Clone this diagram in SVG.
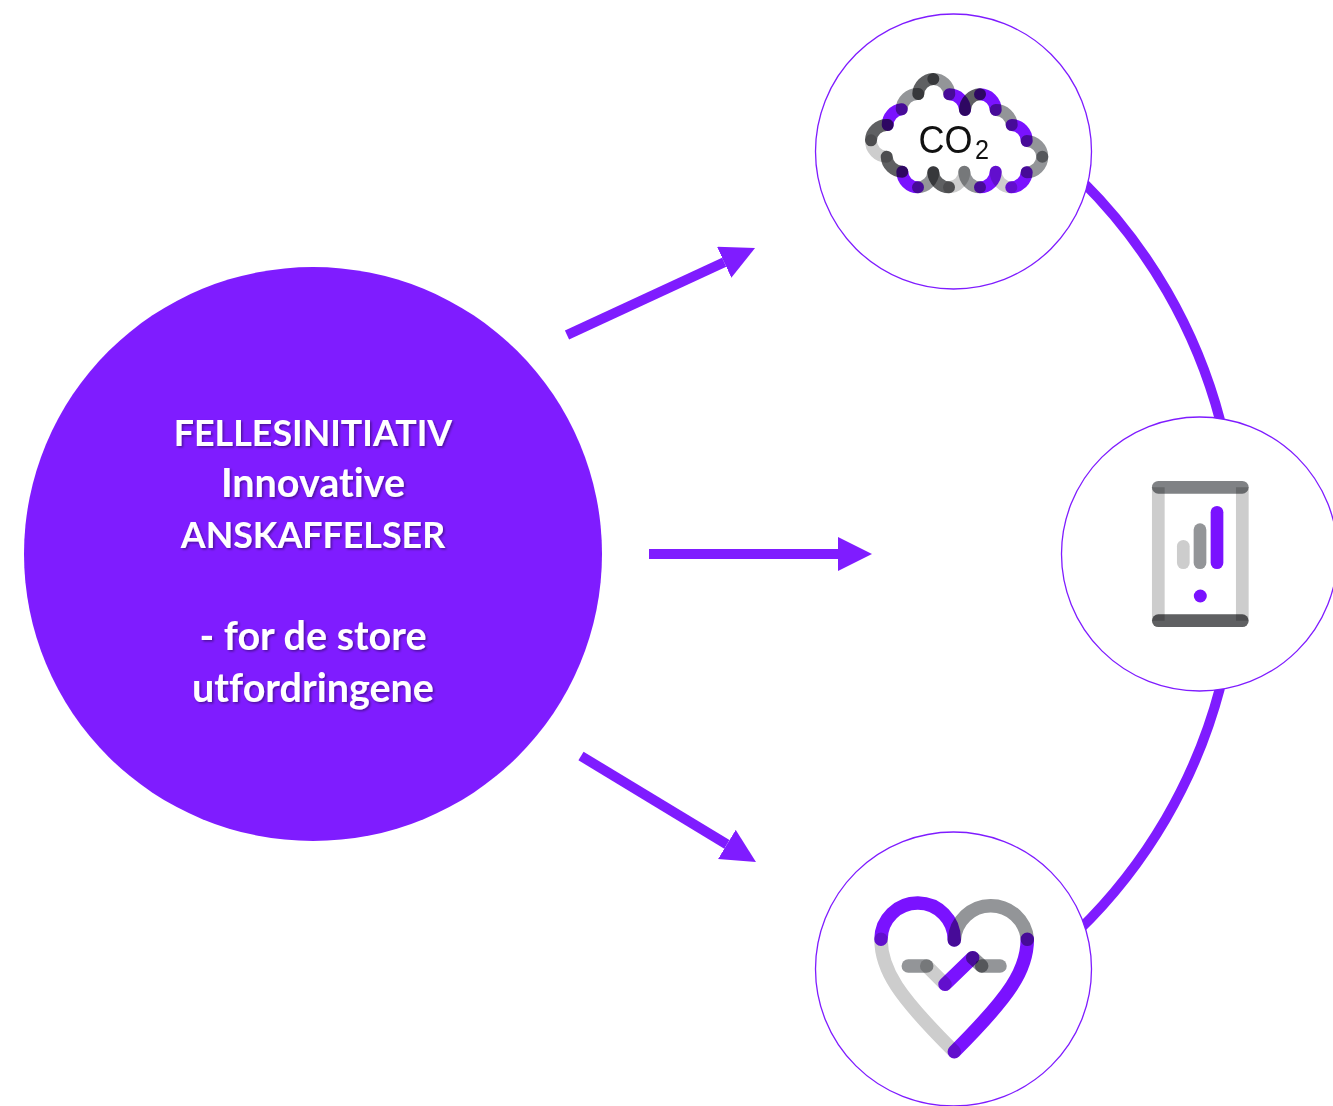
<svg xmlns="http://www.w3.org/2000/svg" width="1333" height="1106" viewBox="0 0 1333 1106">
<defs>
<style>
.ring{fill:#fff;stroke:#7f1cff;stroke-width:1.3}
.s{fill:none;stroke-linecap:round;mix-blend-mode:multiply}
.ic{isolation:isolate}
.c{stroke-width:12}
.h{stroke-width:13.5}
.f{stroke-width:12.7}
.p{stroke:#7a12ff}.l{stroke:#cdcdcd}.m{stroke:#939598}.d{stroke:#5f6062}
.conn{fill:none;stroke:#7f1cff}
.t{font-family:"Lato","Carlito","Open Sans",sans-serif;font-weight:700;font-size:35.8px;fill:#fff;text-anchor:middle;filter:url(#sh);font-variant-ligatures:none}
.lc{font-size:39.5px}
.co{font-family:"Liberation Sans",Arial,sans-serif;fill:#111}
</style>
<filter id="sh" x="-10%" y="-20%" width="120%" height="150%"><feDropShadow dx="1.5" dy="1.5" stdDeviation="1" flood-color="#000" flood-opacity="0.4"/></filter>
<marker id="ah" markerUnits="userSpaceOnUse" markerWidth="36" markerHeight="36" refX="0" refY="17" orient="auto"><path d="M0 0L34 17L0 34Z" fill="#7f1cff"/></marker>
</defs>
<rect width="1333" height="1106" fill="#fff"/>
<g id="connectors">
<path class="conn" stroke-width="10" d="M1082 181A525.6 525.6 0 0 1 1220 420"/>
<path class="conn" stroke-width="10" d="M1220 688A525.6 525.6 0 0 1 1078 931"/>
<path class="conn" stroke-width="10" marker-end="url(#ah)" d="M567 335L724.2 262.3"/>
<path class="conn" stroke-width="10" marker-end="url(#ah)" d="M649 554L838 554"/>
<path class="conn" stroke-width="10" marker-end="url(#ah)" d="M581 756L726.9 844.4"/>
</g>
<g id="node-main">
<ellipse cx="313" cy="554" rx="289" ry="287" fill="#7f1cff"/>
<text class="t" x="313" y="446">FELLESINITIATIV</text>
<text class="t lc" x="313" y="497">Innovative</text>
<text class="t" x="313" y="548">ANSKAFFELSER</text>
<text class="t lc" x="313" y="650">- for de store</text>
<text class="t lc" x="313" y="702">utfordringene</text>
</g>
<g id="node-co2" class="ic">
<ellipse class="ring" cx="953.5" cy="151.5" rx="138" ry="137.5"/>
<g class="c">
<path class="s d" d="M871 140.3A15.8 15.8 0 0 1 887.7 125"/>
<path class="s p" d="M887.7 125A15.8 15.8 0 0 1 901.7 109.3"/>
<path class="s m" d="M901.7 109.3A15.8 15.8 0 0 1 918.3 94"/>
<path class="s d" d="M918.3 94A15.8 15.8 0 0 1 933.3 79"/>
<path class="s m" d="M933.3 79A15.8 15.8 0 0 1 949.3 94.3"/>
<path class="s p" d="M949.3 94.3A15.8 15.8 0 0 1 965 110"/>
<path class="s d" d="M965 110A15.8 15.8 0 0 1 980 94.3"/>
<path class="s p" d="M980 94.3A15.8 15.8 0 0 1 995.7 110"/>
<path class="s m" d="M995.7 110A15.8 15.8 0 0 1 1011.7 125"/>
<path class="s p" d="M1011.7 125A15.8 15.8 0 0 1 1026.7 141"/>
<path class="s m" d="M1026.7 141A15.8 15.8 0 0 1 1042.3 156.7"/>
<path class="s m" d="M1042.3 156.7A15.8 15.8 0 0 1 1026.7 172.3"/>
<path class="s p" d="M1026.7 172.3A15.8 15.8 0 0 1 1011.3 187.3"/>
<path class="s l" d="M1011.3 187.3A15.8 15.8 0 0 1 995.7 171.7"/>
<path class="s p" d="M995.7 171.7A15.8 15.8 0 0 1 980 187.3"/>
<path class="s m" d="M980 187.3A15.8 15.8 0 0 1 964.3 171.7"/>
<path class="s l" d="M964.3 171.7A15.8 15.8 0 0 1 949 187.3"/>
<path class="s d" d="M949 187.3A15.8 15.8 0 0 1 933.3 172.3"/>
<path class="s m" d="M933.3 172.3A15.8 15.8 0 0 1 918 187.3"/>
<path class="s p" d="M918 187.3A15.8 15.8 0 0 1 902.3 171.7"/>
<path class="s d" d="M902.3 171.7A15.8 15.8 0 0 1 886.7 156.7"/>
<path class="s l" d="M886.7 156.7A15.8 15.8 0 0 1 871 140.3"/>
</g>
<text class="co" x="918.5" y="152.5" font-size="39" textLength="54" lengthAdjust="spacingAndGlyphs">CO</text>
<text class="co" x="975" y="159" font-size="27" textLength="14" lengthAdjust="spacingAndGlyphs">2</text>
</g>
<g id="node-phone" class="ic">
<ellipse class="ring" cx="1199.5" cy="554" rx="138" ry="137"/>
<g class="f">
<path class="s l" style="stroke-linecap:butt" d="M1158.3 487.3V620.7M1242.3 487.3V620.7"/>
<path class="s m" style="stroke:#808285" d="M1158.3 487.3H1242.3"/>
<path class="s d" d="M1158.3 620.7H1242.3"/>
<path class="s l" d="M1183.3 546.3V562.7"/>
<path class="s m" d="M1200 529.7V562.7"/>
<path class="s p" d="M1217 512.3V562.7"/>
</g>
<circle cx="1200.3" cy="596" r="6.5" fill="#7a12ff"/>
</g>
<g id="node-heart" class="ic">
<ellipse class="ring" cx="953.5" cy="969" rx="138" ry="137"/>
<g class="h">
<path class="s l" d="M881 939.3C881 970 898.4 996 954.3 1051.7"/>
<path class="s p" d="M1027.3 939.3C1027.3 970 1010 996 954.3 1051.7"/>
<path class="s p" d="M881 939.3A36.6 36.6 0 0 1 954.3 940"/>
<path class="s m" d="M954.3 940A36.6 36.6 0 0 1 1027.3 939.3"/>
<path class="s m" d="M908.3 966H926.7"/>
<path class="s l" d="M926.7 966L945 984.3"/>
<path class="s p" d="M945 984.3L972.7 957.7"/>
<path class="s m" d="M972.7 957.7L981.7 966"/>
<path class="s m" d="M981.7 966H1000"/>
</g>
</g>
</svg>
